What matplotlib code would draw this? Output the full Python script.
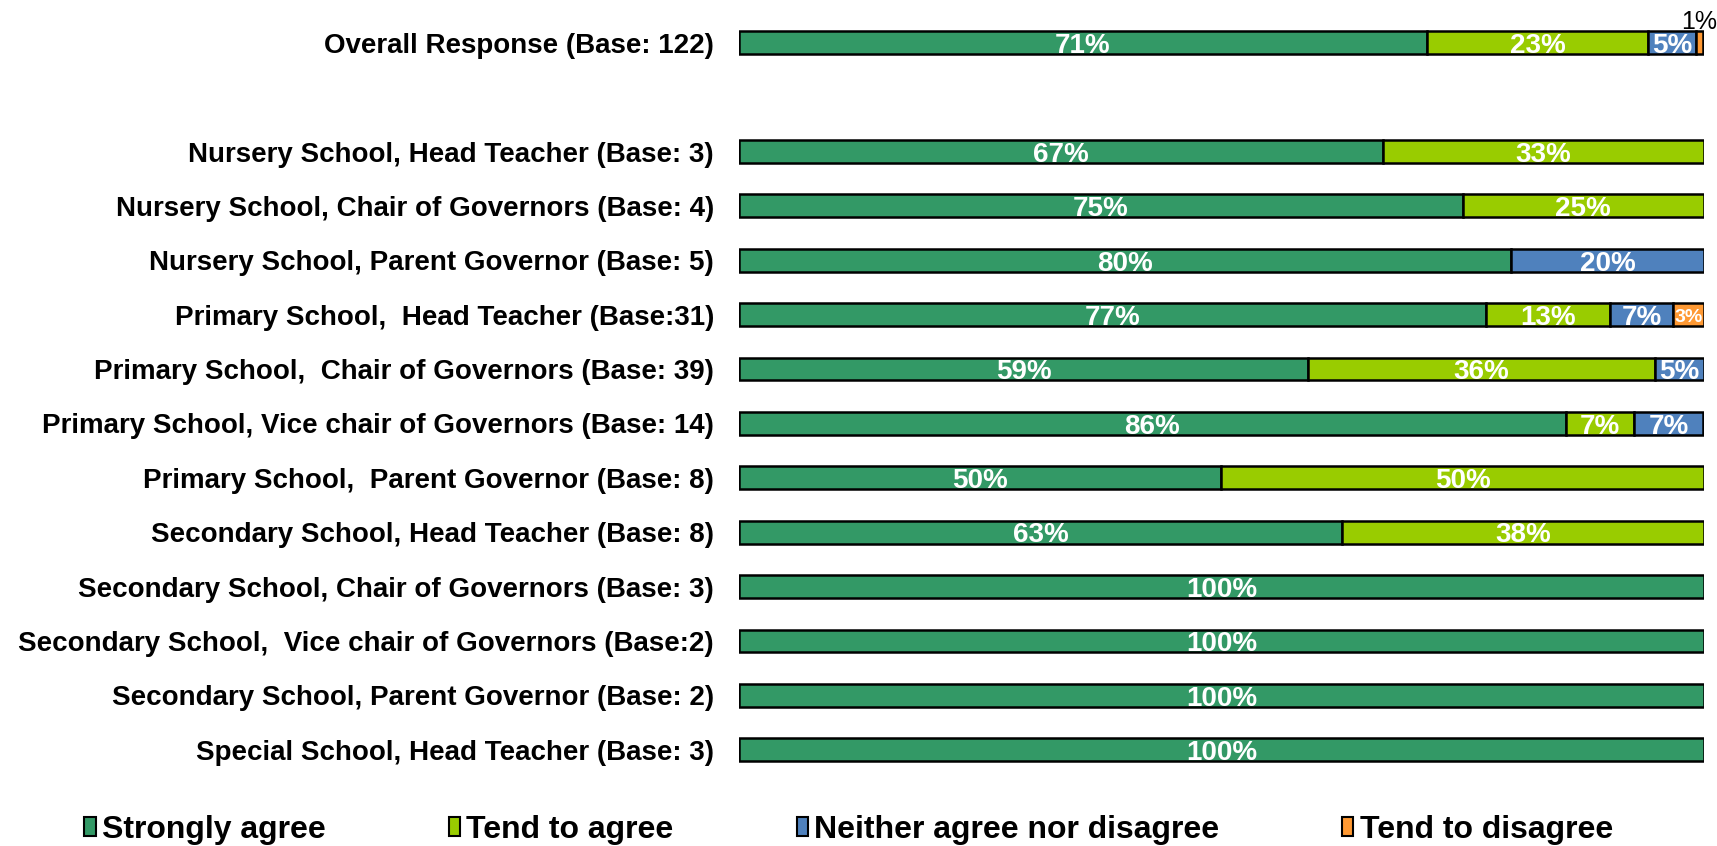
import matplotlib
matplotlib.use("Agg")
import matplotlib.pyplot as plt
import numpy as np
from matplotlib.patches import Patch
import math

categories = [
    "Overall Response (Base: 122)",
    "",
    "Nursery School, Head Teacher (Base: 3)",
    "Nursery School, Chair of Governors (Base: 4)",
    "Nursery School, Parent Governor (Base: 5)",
    "Primary School,  Head Teacher (Base:31)",
    "Primary School,  Chair of Governors (Base: 39)",
    "Primary School, Vice chair of Governors (Base: 14)",
    "Primary School,  Parent Governor (Base: 8)",
    "Secondary School, Head Teacher (Base: 8)",
    "Secondary School, Chair of Governors (Base: 3)",
    "Secondary School,  Vice chair of Governors (Base:2)",
    "Secondary School, Parent Governor (Base: 2)",
    "Special School, Head Teacher (Base: 3)",
]
series_names = ["Strongly agree", "Tend to agree", "Neither agree nor disagree", "Tend to disagree"]
strongly_agree = [71.3, 0, 66.7, 75.0, 80.0, 77.4, 59.0, 85.7, 50.0, 62.5, 100, 100, 100, 100]
tend_to_agree = [22.95, 0, 33.3, 25.0, 0, 12.9, 35.9, 7.1, 50.0, 37.5, 0, 0, 0, 0]
neither = [4.9, 0, 0, 0, 20.0, 6.5, 5.1, 7.1, 0, 0, 0, 0, 0, 0]
tend_to_disagree = [0.8, 0, 0, 0, 0, 3.2, 0, 0, 0, 0, 0, 0, 0, 0]
colors = ["#339966", "#99CC00", "#4F81BD", "#FF9933"]

FAM = ["Liberation Sans", "DejaVu Sans"]

def fmt(v):
    return f"{int(math.floor(v + 0.5))}%"

fig = plt.figure(figsize=(17.17, 8.46), dpi=100)
ax = fig.add_axes([0.4304, 0.0816, 0.562, 0.9])

y = np.arange(len(categories))
left = np.zeros(len(categories))
series = [strongly_agree, tend_to_agree, neither, tend_to_disagree]
for s, (vals, c) in enumerate(zip(series, colors)):
    vals = np.array(vals, dtype=float)
    mask = vals > 0
    ax.barh(y[mask], vals[mask], left=left[mask], height=0.42, color=c,
            edgecolor="black", linewidth=1.8)
    for i, v in enumerate(vals):
        if v <= 0:
            continue
        cx = left[i] + v / 2
        if v < 2:
            ax.annotate(fmt(v), (cx, i), xytext=(0, 15), textcoords="offset points",
                        ha="center", va="center", fontsize=18, color="black",
                        family=FAM)
        else:
            fs = 20 if v >= 4 else 14
            ax.text(cx, i + 0.06, fmt(v), ha="center", va="center", fontsize=fs,
                    color="white", fontweight="bold", family=FAM)
    left += vals

ax.set_xlim(0, 100)
ax.set_ylim(len(categories) - 0.5, -0.5)
ax.set_yticks(y)
ax.set_yticklabels(categories, fontsize=20, fontweight="bold", family=FAM)
ax.tick_params(axis="y", length=0, pad=18)
ax.set_xticks([])
for sp in ax.spines.values():
    sp.set_visible(False)

handles = [Patch(facecolor=c, edgecolor="black", linewidth=1.5, label=n)
           for c, n in zip(colors, series_names)]
fig.legend(handles=handles, loc="center left", bbox_to_anchor=(0.038, 0.019), ncol=4,
           frameon=False, handlelength=0.35, handleheight=0.55, handletextpad=0.2,
           columnspacing=3.85, borderpad=0.1,
           prop={"family": FAM, "weight": "bold", "size": 23})

fig.savefig("out.png", dpi=100)
